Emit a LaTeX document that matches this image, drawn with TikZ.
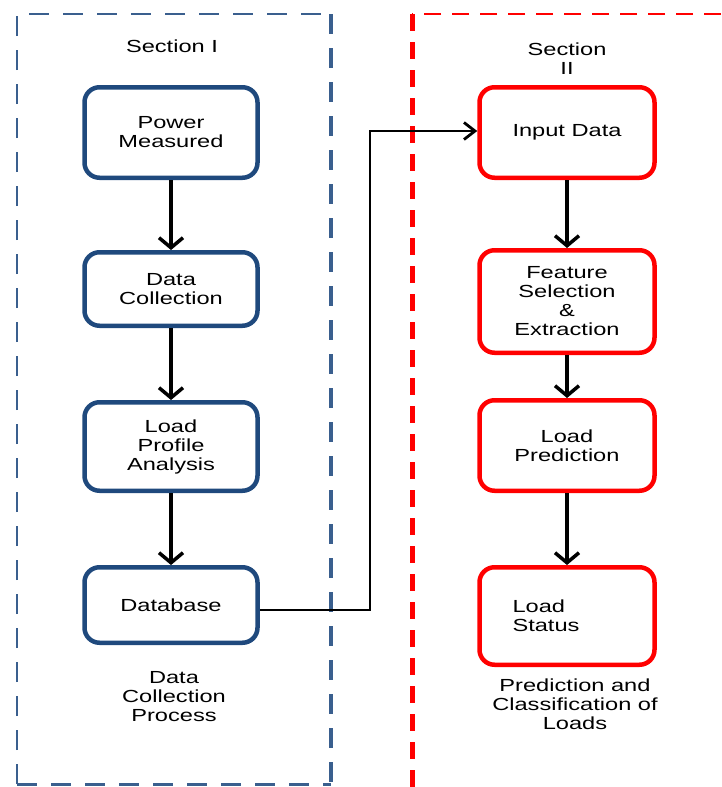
\documentclass[tikz,border=0pt]{standalone}
\usepackage{fontspec}
\setmainfont{Liberation Sans}[FakeStretch=1.35]
\usetikzlibrary{arrows.meta}
\definecolor{boxblue}{HTML}{1F497D}
\definecolor{dashblue}{HTML}{3A5F8E}
\begin{document}
\begin{tikzpicture}[x=1pt,y=-1pt,font=\fontsize{17.5}{19}\selectfont,
  bluebox/.style={draw=boxblue,line width=4.5pt,rounded corners=15pt,minimum width=173pt,align=center,inner sep=0pt},
  redbox/.style={draw=red,line width=4.5pt,rounded corners=15pt,minimum width=175pt,align=center,inner sep=0pt},
  flow/.style={line width=3.5pt,-{Straight Barb[length=10pt,width=24pt]}},
  conn/.style={line width=2.8pt,-{Straight Barb[length=11pt,width=17pt]}},
  bluedash/.style={draw=dashblue,dash pattern=on 20pt off 14pt},
  reddash/.style={draw=red,dash pattern=on 17pt off 11pt},
  lbl/.style={align=center,inner sep=0pt}]
\useasboundingbox (0,0) rectangle (721,787);
% section frames
\draw[bluedash,line width=2.5pt] (17,784) -- (17,14) -- (331,14);
\draw[bluedash,line width=4.5pt] (331,14) -- (331,784);
\draw[bluedash,line width=3pt] (17,784) -- (331,784);
\draw[reddash,line width=2.5pt] (721,14) -- (412,14);
\draw[reddash,line width=5pt] (412,14) -- (412,787);
% labels
\node[lbl] (s1) at (172,46) {Section I};
\node[lbl] (s2) at (567,59) {Section\\II};
\node[lbl] (l1) at (174,697) {Data\\Collection\\Process};
\node[lbl] (l2) at (575,704) {Prediction and\\Classification of\\Loads};
% section I boxes
\node[bluebox,minimum height=90.5pt] (pm) at (171,132.5) {Power\\Measured};
\node[bluebox,minimum height=73.5pt] (dc) at (171,289) {Data\\Collection};
\node[bluebox,minimum height=88.5pt] (lpa) at (171,446.5) {Load\\Profile\\Analysis};
\node[bluebox,minimum height=75.5pt] (db) at (171,605) {Database};
% section II boxes
\node[redbox,minimum height=90.5pt] (id) at (567,132.5) {Input Data};
\node[redbox,minimum height=102.5pt] (fs) at (567,301.5) {Feature\\Selection\\\&\\Extraction};
\node[redbox,minimum height=90.5pt] (lp) at (567,445.5) {Load\\Prediction};
\node[redbox,minimum height=97.5pt,text width=109pt,align=left,inner xsep=33pt] (ls) at (567,616) {Load\\Status};
% arrows
\draw[flow] (pm) -- (dc);
\draw[flow] (dc) -- (lpa);
\draw[flow] (lpa) -- (db);
\draw[flow] (id) -- (fs);
\draw[flow] (fs) -- (lp);
\draw[flow] (lp) -- (ls);
\coordinate (j1) at (370,610);
\coordinate (j2) at (370,131);
\draw[conn] (db.east |- j1) -- (j1) -- (j2) -- (id.west |- j2);
\end{tikzpicture}
\end{document}
